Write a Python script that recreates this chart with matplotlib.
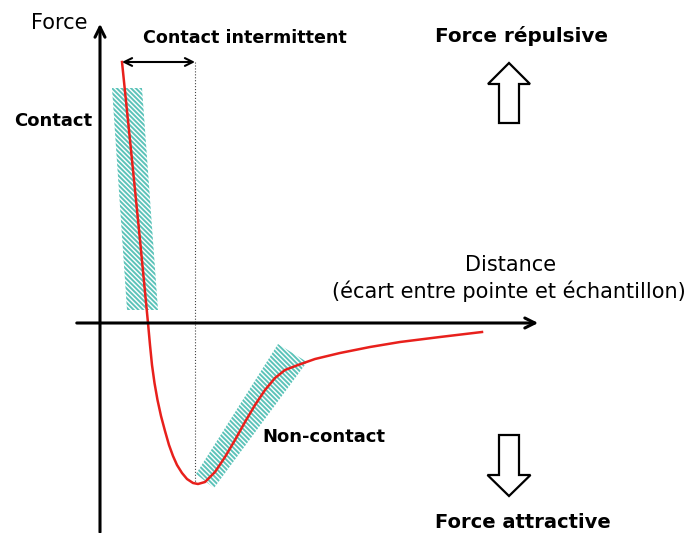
import matplotlib.pyplot as plt
from matplotlib.patches import Polygon, FancyArrow

plt.rcParams['font.family'] = ['DejaVu Sans']
plt.rcParams['hatch.linewidth'] = 1.4

# courbe force / distance (origine = croisement des axes)
distance = [22, 31, 40, 48, 50, 52, 54.5, 57.5, 61, 65, 69, 73, 77, 82, 87,
            93, 98, 105, 115, 125, 135, 145, 155, 165, 175, 185, 198, 215,
            240, 270, 300, 340, 382]
force = [261, 173, 83, 0, -22, -42, -60, -77, -93, -108, -122, -133, -142,
         -150, -156, -160, -161, -159, -149, -134, -117, -99, -82, -67, -55,
         -47, -42, -36, -30, -24, -19, -14, -9]

contact_zone = [(12, 235), (42, 235), (58, 13), (27, 13)]
noncontact_zone = [(178, -21), (207, -39), (114, -165), (96, -151)]

fig = plt.figure(figsize=(6.92, 5.33), dpi=100)
ax = fig.add_axes([0, 0, 1, 1])
ax.set_xlim(-100, 592)
ax.set_ylim(-210, 323)
ax.axis('off')

teal = '#5cc3b9'
for zone in [contact_zone, noncontact_zone]:
    ax.add_patch(Polygon(zone, closed=True, facecolor='none', edgecolor=teal,
                         hatch='\\' * 7, lw=0))

# axes
ax.annotate('', xy=(0, 302), xytext=(0, -212),
            arrowprops=dict(arrowstyle='->', lw=2.2, color='black',
                            mutation_scale=18))
ax.annotate('', xy=(441, 0), xytext=(-26, 0),
            arrowprops=dict(arrowstyle='->', lw=2.2, color='black',
                            mutation_scale=18))

ax.plot(distance, force, color='#e8201c', lw=1.8)

# contact intermittent
ax.plot([95, 95], [261, -160], color='#444444', lw=0.8, ls=':')
ax.annotate('', xy=(95, 261), xytext=(22, 261),
            arrowprops=dict(arrowstyle='<->', lw=1.5, color='black',
                            mutation_scale=14, shrinkA=0, shrinkB=0))

ax.text(-12, 300, 'Force', fontsize=15, ha='right', va='center')
ax.text(43, 285, 'Contact intermittent', fontsize=12.6, fontweight='bold',
        ha='left', va='center')
ax.text(-86, 202, 'Contact', fontsize=13, fontweight='bold',
        ha='left', va='center')
ax.text(162, -114, 'Non-contact', fontsize=13, fontweight='bold',
        ha='left', va='center')
ax.text(411, 58, 'Distance', fontsize=15, ha='center', va='center')
ax.text(409, 32, '(écart entre pointe et échantillon)', fontsize=15,
        ha='center', va='center')
ax.text(335, 287, 'Force répulsive', fontsize=14.4, fontweight='bold',
        ha='left', va='center')
ax.text(335, -199, 'Force attractive', fontsize=14, fontweight='bold',
        ha='left', va='center')

ax.add_patch(FancyArrow(409, 200, 0, 60, width=20, head_width=42,
                        head_length=21, length_includes_head=True,
                        facecolor='white', edgecolor='black', lw=1.6))
ax.add_patch(FancyArrow(409, -112, 0, -61, width=20, head_width=43,
                        head_length=21, length_includes_head=True,
                        facecolor='white', edgecolor='black', lw=1.6))

fig.savefig('out.png', dpi=100)
